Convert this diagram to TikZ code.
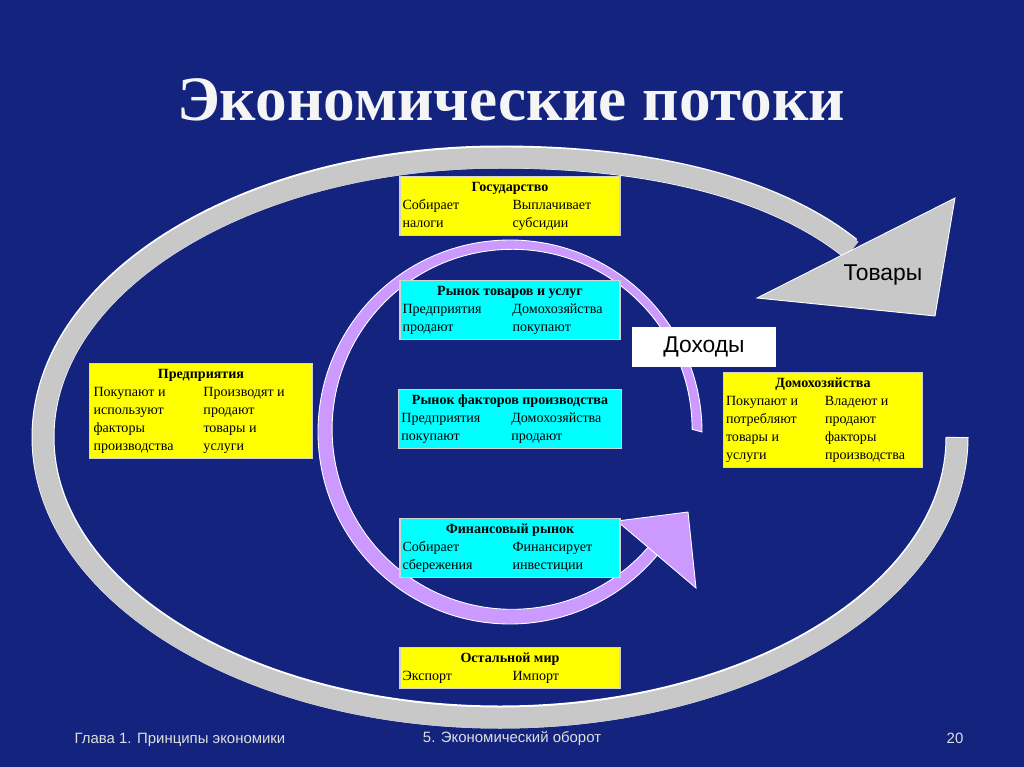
\documentclass[tikz,border=0pt]{standalone}
\usepackage{fontspec}
\setmainfont{Liberation Serif}
\newfontfamily\labelfont{Liberation Sans}
\usetikzlibrary{positioning}

\definecolor{navy}{HTML}{13237E}
\definecolor{boxyellow}{HTML}{FFFF00}
\definecolor{boxcyan}{HTML}{00FFFF}
\definecolor{bandgray}{HTML}{C8C8C8}
\definecolor{bandlilac}{HTML}{CC99FF}

% two-column contents of a box
\newcommand{\flowtab}[2]{%
  \fontsize{8}{10.2}\selectfont
  \begin{tabular}{@{}p{2.2cm}@{}p{2.1cm}@{}}
    \multicolumn{2}{c}{\textbf{#1}}\\ #2
  \end{tabular}}

\tikzset{
  flowbox/.style={draw=gray!35, line width=0.8pt, inner sep=1.5pt,
    minimum width=4.4cm, align=left},
  yel/.style={flowbox, fill=boxyellow},
  cya/.style={flowbox, fill=boxcyan},
  grayband/.style={draw=white, line width=0.5pt, fill=bandgray},
  lilacband/.style={draw=white, line width=0.5pt, fill=bandlilac},
  tag/.style={font=\labelfont\fontsize{13}{13}\selectfont},
  foot/.style={font=\labelfont\fontsize{8.5}{8.5}\selectfont, text=gray!25}
}

\begin{document}
\begin{tikzpicture}[x=0.02cm, y=-0.02cm]
	\fill[navy] (0,0) rectangle (1024,767);
	\useasboundingbox (0,0) rectangle (1024,767);
	% title
	\node[text=white!92!gray, font=\bfseries\fontsize{36}{36}\selectfont] (title) at (511,100) {Экономические потоки};

	% outer band (goods)
	\draw[white, line width=0.46cm, line cap=butt] (957,437) arc[start angle=0, end angle=270, x radius=457, y radius=280]
		.. controls (680,157) and (790,200) .. (850,248);
	\draw[bandgray, line width=0.42cm, line cap=butt] (957,438) arc[start angle=0, end angle=270, x radius=457, y radius=280]
		.. controls (680,157) and (790,200) .. (852,250);
	\fill[grayband] (955,198) -- (757,298) -- (935,316) -- cycle;
	\node[tag] (goods) at (883,275) {Товары};

	% inner band (income)
	\draw[lilacband] (702,432) arc[start angle=0, end angle=-320, radius=192]
		-- (650,545) arc[start angle=-320, end angle=0, radius=180] -- cycle;
	\fill[lilacband] (688,512) -- (617,521) -- (696,588) -- cycle;
	\node[tag, fill=white, minimum width=2.9cm, minimum height=0.8cm] (income) at (704,347) {Доходы};

	% boxes
	\node[yel] (state) at (510,206) {\flowtab{Государство}{Собирает & Выплачивает\\ налоги & субсидии}};
	\node[cya] (goodsmkt) at (510,310) {\flowtab{Рынок товаров и услуг}{Предприятия & Домохозяйства\\ продают & покупают}};
	\node[cya] (factormkt) at (510,419) {\flowtab{Рынок факторов производства}{Предприятия & Домохозяйства\\ покупают & продают}};
	\node[cya] (finmkt) at (510,548) {\flowtab{Финансовый рынок}{Собирает & Финансирует\\ сбережения & инвестиции}};
	\node[yel] (world) at (510,668) {\flowtab{Остальной мир}{Экспорт & Импорт}};
	\node[yel, minimum width=4.46cm] (firms) at (201,411) {\flowtab{Предприятия}{Покупают и & Производят и\\ используют & продают\\ факторы & товары и\\ производства & услуги}};
	\node[yel, minimum width=3.94cm] (homes) at (823,420) {\fontsize{8}{10.2}\selectfont
		\begin{tabular}{@{}p{1.98cm}@{}p{1.9cm}@{}}
		\multicolumn{2}{c}{\textbf{Домохозяйства}}\\ Покупают и & Владеют и\\ потребляют & продают\\ товары и & факторы\\ услуги & производства
		\end{tabular}};

	% footer
	\node[foot] (chapter) at (180,740) {Глава 1. Принципы экономики};
	\node[foot] (section) at (512,738) {5. Экономический оборот};
	\node[foot] (page) at (955,738) {20};
\end{tikzpicture}
\end{document}
